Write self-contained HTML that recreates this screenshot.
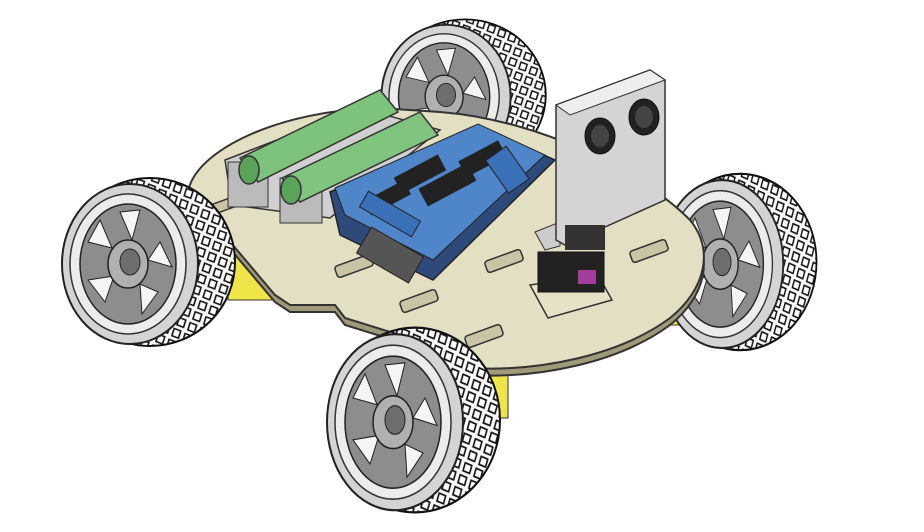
<!DOCTYPE html>
<html><head><meta charset="utf-8"><style>html,body{margin:0;padding:0;background:#fff}svg{display:block}</style></head>
<body>
<svg width="924" height="532" viewBox="0 0 924 532" xmlns="http://www.w3.org/2000/svg">
<defs>
<pattern id="tread" width="12" height="12" patternUnits="userSpaceOnUse" patternTransform="rotate(25)">
<rect width="12" height="12" fill="#fafafa"/>
<path d="M2 2 L9 1.5 L10 9 L3 9.5 Z" fill="#fff" stroke="#111" stroke-width="1.6"/>
</pattern>
<g id="wheel">
<ellipse cx="0" cy="0" rx="85" ry="84" fill="url(#tread)" stroke="#111" stroke-width="2"/>
<ellipse cx="-20" cy="2" rx="68" ry="80" fill="#d4d4d4" stroke="#222" stroke-width="2"/>
<ellipse cx="-22" cy="2" rx="58" ry="70" fill="#ececec" stroke="#333" stroke-width="1.5"/>
<ellipse cx="-22" cy="2" rx="48" ry="60" fill="#8d8d8d" stroke="#222" stroke-width="1.5"/>
<g fill="#f5f5f5" stroke="#222" stroke-width="1">
<path d="M-30 -50 L-10 -52 L-18 -22 Z"/>
<path d="M10 -20 L22 5 L-2 -2 Z"/>
<path d="M8 30 L-8 52 L-10 22 Z"/>
<path d="M-45 40 L-62 18 L-36 14 Z"/>
<path d="M-62 -20 L-50 -42 L-38 -14 Z"/>
</g>
<ellipse cx="-22" cy="2" rx="20" ry="24" fill="#b0b0b0" stroke="#222" stroke-width="1.5"/>
<ellipse cx="-20" cy="0" rx="10" ry="13" fill="#6e6e6e" stroke="#222"/>
</g>
</defs>

<!-- back wheel -->
<use href="#wheel" transform="translate(465,95) scale(0.95,0.9)"/>

<!-- motors -->
<rect x="228" y="255" width="60" height="45" fill="#f0e548" stroke="#333"/>
<rect x="478" y="350" width="30" height="68" fill="#f0e548" stroke="#333"/>
<rect x="665" y="255" width="50" height="70" fill="#f0e548" stroke="#333"/>
<rect x="705" y="265" width="30" height="30" fill="#ddd" stroke="#333"/>

<!-- right wheel -->
<use href="#wheel" transform="translate(740,262) scale(0.9,1.05)"/>

<!-- plate thickness -->
<path transform="translate(0,7)" d="M188 192 C195 150 280 110 380 108 L440 112 C540 120 640 170 690 220 C715 250 705 290 670 318 C620 355 540 372 470 368 L400 335 L345 318 L335 305 L290 305 L275 295 Z" fill="#9e9a78" stroke="#333" stroke-width="2"/>
<!-- plate -->
<path d="M188 192 C195 150 280 110 380 108 L440 112 C540 120 640 170 690 220 C715 250 705 290 670 318 C620 355 540 372 470 368 L400 335 L345 318 L335 305 L290 305 L275 295 Z" fill="#e3dfc2" stroke="#333" stroke-width="2"/>
<!-- slots -->
<g fill="#c8c4a4" stroke="#333" stroke-width="1.5">
<rect x="335" y="260" width="38" height="12" rx="3" transform="rotate(-20 354 266)"/>
<rect x="400" y="295" width="38" height="12" rx="3" transform="rotate(-20 419 301)"/>
<rect x="485" y="255" width="38" height="12" rx="3" transform="rotate(-20 504 261)"/>
<rect x="465" y="330" width="38" height="12" rx="3" transform="rotate(-20 484 336)"/>
<rect x="630" y="245" width="38" height="12" rx="3" transform="rotate(-20 649 251)"/>
<rect x="210" y="200" width="30" height="10" rx="3" transform="rotate(-20 225 205)"/>
</g>

<!-- battery holder -->
<path d="M225 160 L360 108 L440 130 L330 218 L232 205 Z" fill="#d0d0d0" stroke="#333" stroke-width="1.5"/>
<rect x="228" y="162" width="40" height="45" fill="#bbb" stroke="#333"/>
<rect x="280" y="178" width="42" height="45" fill="#bbb" stroke="#333"/>
<!-- batteries -->
<g stroke="#333" stroke-width="1.5">
<path d="M240 158 L380 90 L398 112 L258 182 Z" fill="#7dc27d"/>
<ellipse cx="249" cy="170" rx="10" ry="14" fill="#5aa45a"/>
<path d="M282 178 L420 112 L438 135 L300 202 Z" fill="#80c480"/>
<ellipse cx="291" cy="190" rx="10" ry="14" fill="#5aa45a"/>
</g>
<!-- board -->
<path d="M330 192 L480 127 L555 160 L433 280 L340 235 Z" fill="#2e4a7a" stroke="#222" stroke-width="1.5"/>
<path d="M335 188 L478 124 L545 155 L433 260 L345 215 Z" fill="#4f86c9" stroke="#222"/>
<g fill="#222">
<rect x="395" y="165" width="50" height="18" transform="rotate(-28 420 174)"/>
<rect x="420" y="175" width="55" height="20" transform="rotate(-28 447 185)"/>
<rect x="460" y="150" width="45" height="18" transform="rotate(-28 482 159)"/>
<rect x="365" y="190" width="45" height="16" transform="rotate(-28 387 198)"/>
</g>
<g fill="#3a70b8" stroke="#222"><rect x="360" y="205" width="60" height="18" transform="rotate(30 390 214)"/><rect x="495" y="150" width="25" height="40" transform="rotate(-35 507 170)"/></g>
<rect x="360" y="240" width="60" height="30" fill="#555" stroke="#222" transform="rotate(30 390 255)"/>

<!-- servo -->
<path d="M530 285 L598 275 L612 300 L548 318 Z" fill="#e6e2c8" stroke="#333" stroke-width="1.5"/>
<rect x="538" y="252" width="66" height="40" fill="#222" stroke="#111"/>
<rect x="578" y="270" width="18" height="14" fill="#a33d9a"/>
<!-- sensor bracket -->
<path d="M535 232 L560 222 L560 246 L545 250 Z" fill="#ccc" stroke="#333"/>
<path d="M556 105 L650 70 L665 80 L665 200 L565 245 L556 240 Z" fill="#d4d4d4" stroke="#333" stroke-width="1.5"/>
<path d="M556 105 L650 70 L665 80 L570 115 Z" fill="#eee" stroke="#333"/>
<ellipse cx="600" cy="136" rx="15" ry="18" fill="#222" stroke="#111"/>
<ellipse cx="644" cy="117" rx="15" ry="18" fill="#222" stroke="#111"/>
<ellipse cx="600" cy="136" rx="9" ry="11" fill="#444"/>
<ellipse cx="644" cy="117" rx="9" ry="11" fill="#444"/>
<rect x="565" y="225" width="40" height="25" fill="#333"/>

<!-- front-left wheel -->
<use href="#wheel" transform="translate(150,262)"/>
<!-- front wheel -->
<use href="#wheel" transform="translate(415,420) scale(1,1.1)"/>
</svg>
</body></html>
